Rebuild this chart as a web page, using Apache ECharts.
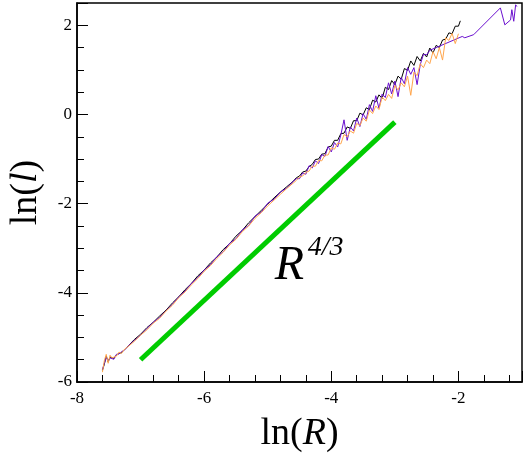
<!DOCTYPE html>
<html><head><meta charset="utf-8">
<script src="https://cdn.jsdelivr.net/npm/echarts@6/dist/echarts.min.js"></script>
<style>html,body{margin:0;padding:0;background:#fff}#c{width:525px;height:461px}</style>
</head><body><div id="c"></div><script>
// shared ln(R) sample positions
const lnR = [
  -7.60,-7.57,-7.54,-7.51,-7.48,-7.45,-7.42,-7.38,-7.34,-7.30,-7.25,-7.20,
  -7.10,-7.00,-6.90,-6.80,-6.70,-6.60,-6.50,-6.40,-6.30,-6.20,-6.10,-6.00,-5.90,-5.80,-5.70,-5.60,-5.50,-5.40,-5.30,-5.20,-5.10,-5.00,-4.90,-4.80,-4.70,-4.60,
  -4.55,-4.50,-4.45,-4.40,-4.35,-4.30,-4.25,-4.20,-4.15,-4.10,-4.05,-4.00,-3.95,-3.90,-3.85,-3.80,-3.75,-3.70,-3.65,-3.60,-3.55,-3.50,-3.45,-3.40,-3.35,-3.30,-3.25,-3.20,-3.15,-3.10,-3.05,-3.00,-2.95,-2.90,-2.85,-2.80,-2.75,-2.70,-2.65,-2.60,-2.55,-2.50,-2.45,-2.40,-2.35,-2.30,-2.25,-2.20,-2.15,-2.10,-2.05,-2.00
];
const blackL = [
  -5.74,-5.60,-5.42,-5.55,-5.44,-5.40,-5.47,-5.40,-5.36,-5.34,-5.27,-5.20,
  -5.05,-4.93,-4.78,-4.66,-4.52,-4.39,-4.23,-4.09,-3.93,-3.79,-3.62,-3.49,-3.33,-3.20,-3.03,-2.90,-2.73,-2.60,-2.43,-2.29,-2.15,-2.01,-1.87,-1.74,-1.62,-1.50,
  -1.42,-1.38,-1.29,-1.27,-1.17,-1.12,-1.01,-1.00,-0.89,-0.88,
  -0.73,-0.71,-0.58,-0.58,-0.43,-0.42,-0.28,-0.31,-0.14,-0.14,
  0.03,-0.01,0.15,0.11,0.32,0.28,0.44,0.36,0.61,0.56,
  0.76,0.67,0.86,0.79,1.03,0.99,1.20,1.10,1.30,1.20,
  1.37,1.29,1.49,1.38,1.55,1.50,1.67,1.69,1.83,1.81,
  1.98,1.98
];
const blackTailR = [-1.97];
const blackTailL = [2.10];
const orangeL = [
  -5.78,-5.52,-5.38,-5.58,-5.40,-5.46,-5.44,-5.42,-5.33,-5.36,-5.26,-5.21,
  -5.09,-4.95,-4.83,-4.68,-4.57,-4.41,-4.28,-4.11,-3.98,-3.82,-3.68,-3.52,-3.39,-3.23,-3.09,-2.93,-2.80,-2.63,-2.50,-2.33,-2.20,-2.05,-1.92,-1.79,-1.66,-1.54,
  -1.48,-1.40,-1.38,-1.30,-1.27,-1.16,-1.16,-1.03,-1.04,-0.91,
  -0.91,-0.75,-0.78,-0.64,-0.66,-0.45,-0.50,-0.37,-0.42,-0.20,
  -0.25,-0.08,-0.15,0.10,0.02,0.19,0.11,0.39,0.31,0.45,
  0.36,0.65,0.55,0.71,0.62,0.86,0.43,0.95,0.87,1.14,
  1.05,1.22,1.14,1.41,1.25,1.50,1.22,1.72,1.66,1.82,
  1.59,1.81
];
const purpleL = [
  -5.72,-5.58,-5.45,-5.52,-5.46,-5.42,-5.49,-5.38,-5.37,-5.32,-5.28,-5.20,
  -5.07,-4.95,-4.80,-4.66,-4.55,-4.40,-4.26,-4.09,-3.96,-3.79,-3.66,-3.49,-3.37,-3.19,-3.08,-2.89,-2.79,-2.59,-2.49,-2.28,-2.19,-1.99,-1.90,-1.74,-1.65,-1.50,
  -1.44,-1.44,-1.31,-1.34,-1.15,-1.20,-1.04,-1.10,-0.90,-0.94,
  -0.72,-0.84,-0.63,-0.73,-0.46,-0.12,-0.58,-0.28,-0.37,-0.08,
  -0.27,0.02,-0.11,0.22,0.07,0.42,0.14,0.46,0.38,0.71,
  0.46,0.75,0.40,0.83,0.69,1.05,0.90,1.05,0.67,1.12,
  1.35,1.34,1.44
];
const purpleTailR = [-1.94,-1.90,-1.76,-1.34,-1.27,-1.18,-1.16,-1.13,-1.10,-1.08];
const purpleTailL = [1.75,1.72,1.79,2.39,2.01,2.12,2.35,2.09,2.46,2.42];
const guideR = [-7.0, -3.0];
const guideL = [-5.5, -0.17];
const xTickLabels = ['-8', '-6', '-4', '-2'];
const yTickLabels = ['-6', '-4', '-2', '0', '2'];
const xTicks = {min: -8, max: -1, major: 2, minor: 0.4};
const yTicks = {min: -6, max: 2.5, major: 2, minor: 0.5};

function zip(xs, ys) { return ys.map((y, i) => [xs[i], y]); }
const blackData = zip(lnR, blackL).concat(zip(blackTailR, blackTailL));
const orangeData = zip(lnR, orangeL);
const purpleData = zip(lnR, purpleL).concat(zip(purpleTailR, purpleTailL));

const F = 'Liberation Serif';
const FQ = '"Liberation Serif", "Times New Roman", serif';
const chart = echarts.init(document.getElementById('c'), null, {renderer: 'canvas'});
function nameStyle(size) {
  return {fontFamily: F, fontSize: size, color: '#000',
    rich: {a: {fontFamily: F, fontSize: size, color: '#000'},
           b: {fontFamily: F, fontSize: size, fontStyle: 'italic', color: '#000'}}};
}
const lineCommon = {type: 'line', showSymbol: false, symbol: 'none', animation: false, z: 3};
chart.setOption({
  animation: false,
  backgroundColor: '#fff',
  textStyle: {fontFamily: F},
  grid: {left: 77, right: 3, top: 3, bottom: 79, show: true, borderColor: '#000', borderWidth: 1.5, containLabel: false, outerBoundsMode: 'none'},
  xAxis: [
    {type: 'value', min: xTicks.min, max: xTicks.max, interval: xTicks.major, position: 'bottom',
     axisLine: {show: true, onZero: false, lineStyle: {color: '#000', width: 1.5}},
     axisTick: {show: true, inside: true, length: 11, lineStyle: {color: '#000', width: 1}},
     axisLabel: {show: false},
     splitLine: {show: false},
     name: '{a|ln(}{b|R}{a|)}', nameLocation: 'middle', nameGap: 33, nameTextStyle: nameStyle(38)},
    {type: 'value', min: xTicks.min, max: xTicks.max, interval: xTicks.minor, position: 'bottom',
     axisLine: {show: false, onZero: false},
     axisTick: {show: true, inside: true, length: 7, lineStyle: {color: '#000', width: 1}},
     axisLabel: {show: false}, splitLine: {show: false}}
  ],
  yAxis: [
    {type: 'value', min: yTicks.min, max: yTicks.max, interval: yTicks.major, position: 'left',
     axisLine: {show: true, onZero: false, lineStyle: {color: '#000', width: 1.5}},
     axisTick: {show: true, inside: true, length: 11, lineStyle: {color: '#000', width: 1}},
     axisLabel: {show: false},
     splitLine: {show: false},
     name: '{a|ln(}{b|l}{a|)}', nameLocation: 'middle', nameRotate: 90, nameGap: 32, nameTextStyle: nameStyle(38)},
    {type: 'value', min: yTicks.min, max: yTicks.max, interval: yTicks.minor, position: 'left',
     axisLine: {show: false, onZero: false},
     axisTick: {show: true, inside: true, length: 7, lineStyle: {color: '#000', width: 1}},
     axisLabel: {show: false}, splitLine: {show: false}}
  ],
  series: [
    Object.assign({}, lineCommon, {name: 'black', data: blackData, lineStyle: {color: '#000', width: 1}, itemStyle: {color: '#000'}}),
    Object.assign({}, lineCommon, {name: 'purple', data: purpleData, lineStyle: {color: '#6a0fcf', width: 1}, itemStyle: {color: '#6a0fcf'}}),
    Object.assign({}, lineCommon, {name: 'orange', data: orangeData, lineStyle: {color: '#ffa64d', width: 1}, itemStyle: {color: '#ffa64d'}}),
    Object.assign({}, lineCommon, {name: 'guide', data: zip(guideR, guideL), lineStyle: {color: '#00cc00', width: 5, cap: 'butt'}, itemStyle: {color: '#00cc00'}})
  ]
});

// tick labels and annotation drawn as text, placed through the axes' scales
const grid = chart.getModel().getComponent('grid').coordinateSystem.getRect();
const g = [];
xTickLabels.forEach(t => {
  const px = chart.convertToPixel({xAxisIndex: 0}, Number(t));
  g.push({type: 'text', x: px, y: grid.y + grid.height + 8,
    style: {text: t, font: '17px ' + FQ, fill: '#000', align: 'center', verticalAlign: 'top'}});
});
yTickLabels.forEach(t => {
  const py = chart.convertToPixel({yAxisIndex: 0}, Number(t));
  g.push({type: 'text', x: grid.x - 5, y: py,
    style: {text: t, font: '17px ' + FQ, fill: '#000', align: 'right', verticalAlign: 'middle'}});
});
const rPos = chart.convertToPixel({xAxisIndex: 0, yAxisIndex: 0}, [-4.89, -2.87]);
g.push({type: 'text', x: rPos[0], y: rPos[1], style: {text: 'R', font: 'italic 48px ' + FQ, fill: '#000', verticalAlign: 'top'}});
g.push({type: 'text', x: rPos[0] + 33, y: rPos[1] - 9, style: {text: '4/3', font: 'italic 28px ' + FQ, fill: '#000', verticalAlign: 'top'}});
chart.setOption({graphic: g});
</script></body></html>
